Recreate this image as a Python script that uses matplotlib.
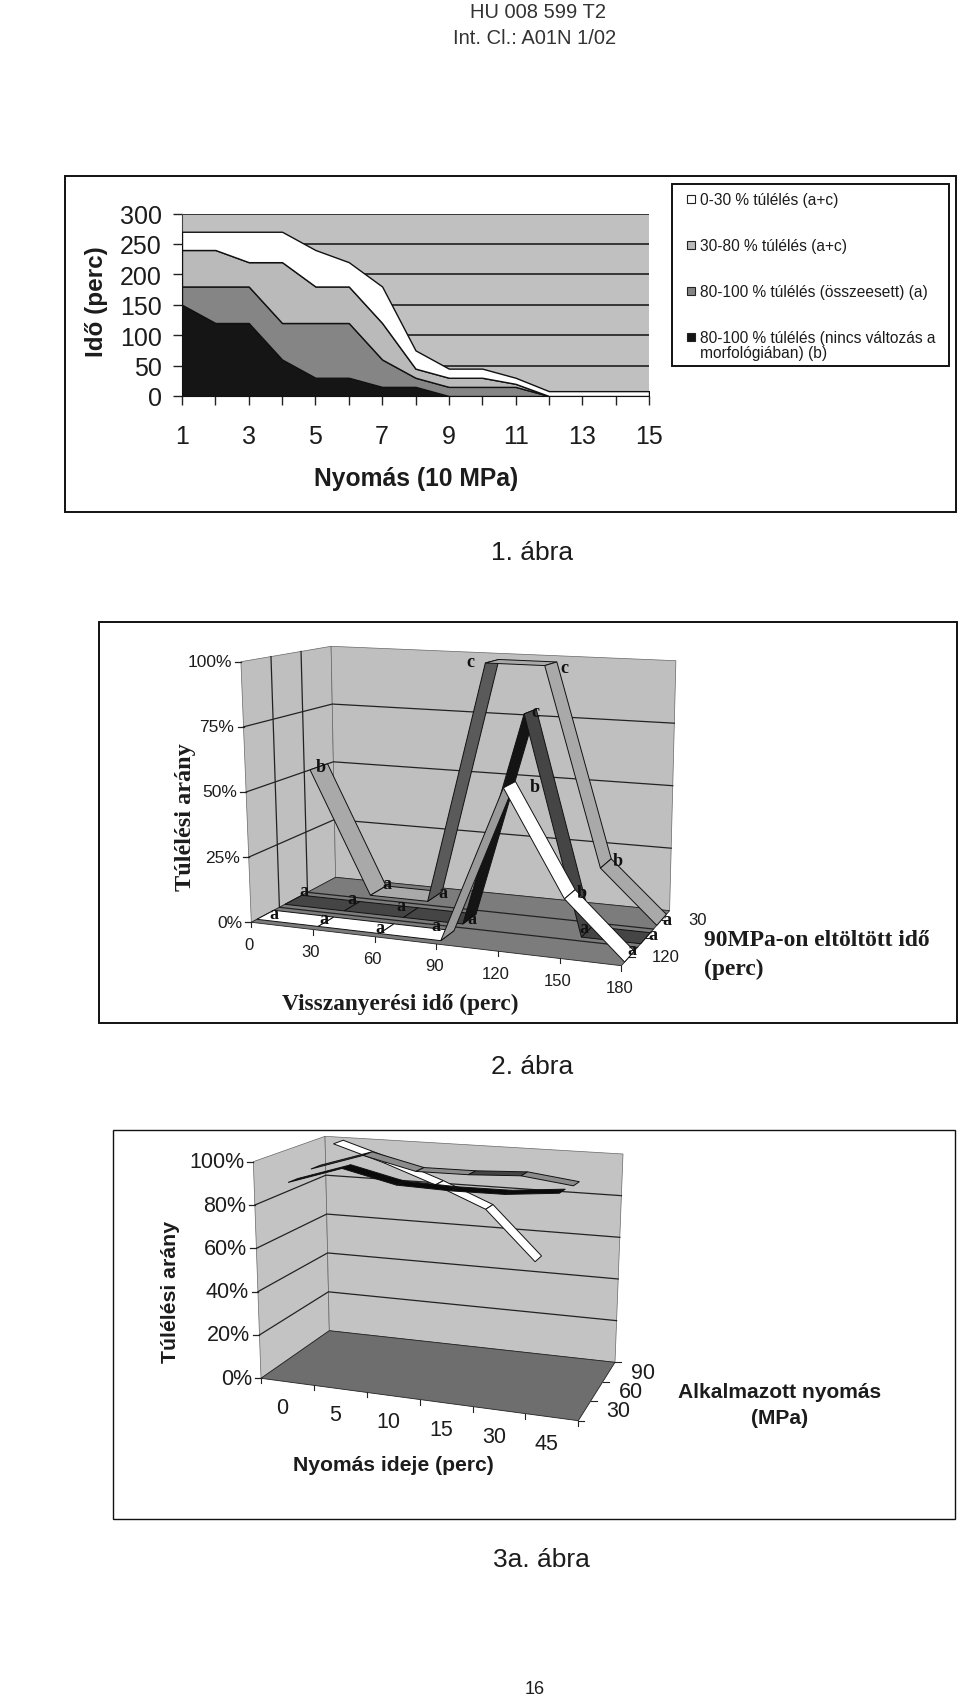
import numpy as np
import matplotlib
matplotlib.use("Agg")
import matplotlib.pyplot as plt
from matplotlib.patches import Polygon, Rectangle

plt.rcParams["font.family"] = ["Liberation Sans", "DejaVu Sans"]

W, H = 960, 1699
INK = "#1c1c1c"

# 1. abra: stacked areas
pressure = [1, 2, 3, 4, 5, 6, 7, 8, 9, 10, 11, 12, 13, 14, 15]
surv_80_100_b = [150, 120, 120, 60, 30, 30, 15, 15, 0, 0, 0, 0, 0, 0, 0]
surv_80_100_a = [30, 60, 60, 60, 90, 90, 45, 15, 15, 15, 15, 0, 0, 0, 0]
surv_30_80 = [60, 60, 40, 100, 60, 60, 60, 15, 15, 15, 5, 0, 0, 0, 0]
surv_0_30 = [30, 30, 50, 50, 60, 40, 60, 30, 15, 15, 10, 8, 8, 8, 8]
legend_labels = ["0-30 % túlélés (a+c)", "30-80 % túlélés (a+c)",
                 "80-100 % túlélés (összeesett) (a)",
                 "80-100 % túlélés (nincs változás a\nmorfológiában) (b)"]

# 2. abra: ribbons, back to front
recovery_labels = ["0", "30", "60", "90", "120", "150", "180"]
depth2_labels = ["120", "", "30"]
rib2_back = [50, 0, 0, 98, 98, 20, 0]
rib2_mid = [0, 0, 0, 0, 82, 0, 0]
rib2_front = [0, 0, 0, 0, 58, 20, 0]
letters_back = ["b", "a", "a", "c", "c", "b", "a"]
letters_mid = ["a", "a", "a", "a", "c", "a", "a"]
letters_front = ["a", "a", "a", "a", "b", "b", "a"]
pct2_ticks = [0, 25, 50, 75, 100]

# 3a. abra: ribbons, back to front
duration_labels = ["0", "5", "10", "15", "30", "45"]
depth3_labels = ["30", "60", "90"]
rib3_90 = [100, 92, 83, 73, 50]
rib3_60 = [92, 100, 94, 94, 95, 92]
rib3_30 = [90, 98, 92, 91, 91, 93]
pct3_ticks = [0, 20, 40, 60, 80, 100]

fig = plt.figure(figsize=(W / 100, H / 100), dpi=100, facecolor="white")
page = fig.add_axes([0, 0, 1, 1])
page.set_xlim(0, W)
page.set_ylim(H, 0)
page.axis("off")


def frame(x0, y0, x1, y1, lw=1.4):
    page.add_patch(Rectangle((x0, y0), x1 - x0, y1 - y0, fc="none", ec="#111111", lw=lw))


def make_proj(fl, bl, br, fr, tfl, tbl, tbr, tfr):
    floor = [np.array(p, float) for p in (fl, bl, br, fr)]
    top = [np.array(p, float) for p in (tfl, tbl, tbr, tfr)]

    def bilin(c, x, d):
        return (c[0] * (1 - x) + c[3] * x) * (1 - d) + (c[1] * (1 - x) + c[2] * x) * d

    def proj(x, d, pct):
        a = bilin(floor, x, d)
        b = bilin(top, x, d)
        return a + (b - a) * pct / 100.0
    return proj


def walls(proj, ticks, wall_c, floor_c, depth_lines):
    page.add_patch(Polygon([proj(0, 0, 0), proj(0, 1, 0), proj(0, 1, 100), proj(0, 0, 100)],
                           fc=wall_c, ec="#666666", lw=0.5, zorder=2))
    page.add_patch(Polygon([proj(0, 1, 0), proj(1, 1, 0), proj(1, 1, 100), proj(0, 1, 100)],
                           fc=wall_c, ec="#666666", lw=0.5, zorder=2))
    page.add_patch(Polygon([proj(0, 0, 0), proj(1, 0, 0), proj(1, 1, 0), proj(0, 1, 0)],
                           fc=floor_c, ec="#222222", lw=0.6, zorder=2))
    for p in ticks[1:-1]:
        pts = np.array([proj(0, 0, p), proj(0, 1, p), proj(1, 1, p)])
        page.plot(pts[:, 0], pts[:, 1], color="#222222", lw=0.9, zorder=3)
    for d in depth_lines:
        pts = np.array([proj(0, d, 100), proj(0, d, 0), proj(1, d, 0)])
        page.plot(pts[:, 0], pts[:, 1], color="#222222", lw=0.9, zorder=3)


def ribbon(proj, xs, d, vals, w, up_c, down_c, z):
    for i in range(len(vals) - 1):
        quad = [proj(xs[i], d - w, vals[i]), proj(xs[i + 1], d - w, vals[i + 1]),
                proj(xs[i + 1], d + w, vals[i + 1]), proj(xs[i], d + w, vals[i])]
        face = up_c if vals[i + 1] > vals[i] else down_c
        page.add_patch(Polygon(quad, fc=face, ec="#111111", lw=0.7, zorder=z))


def val_ticks(proj, ticks, size, gap):
    for p in ticks:
        a = proj(0, 0, p)
        page.plot([a[0] - 6, a[0]], [a[1], a[1]], color="#222222", lw=0.9, zorder=3)
        page.text(a[0] - gap, a[1], f"{p}%", ha="right", va="center", fontsize=size, color=INK)


# header and captions
page.text(538, 12, "HU 008 599 T2", ha="center", va="center", fontsize=14.5, color="#333333")
page.text(535, 38, "Int. Cl.: A01N 1/02", ha="center", va="center", fontsize=14.5, color="#333333")
page.text(532, 553, "1. ábra", ha="center", va="center", fontsize=19, color=INK)
page.text(532, 1067, "2. ábra", ha="center", va="center", fontsize=19, color=INK)
page.text(541, 1560, "3a. ábra", ha="center", va="center", fontsize=19, color=INK)
page.text(535, 1690, "16", ha="center", va="center", fontsize=13, color=INK)

# ---- 1. abra
frame(65, 177, 956, 513)
frame(672, 185, 949, 367)
ax = fig.add_axes([182 / W, 1 - 397 / H, (649 - 182) / W, (397 - 214.5) / H])
ax.set_facecolor("#c0c0c0")
ax.stackplot(pressure, surv_80_100_b, surv_80_100_a, surv_30_80, surv_0_30,
             colors=["#151515", "#858585", "#bababa", "#ffffff"],
             edgecolor="#111111", linewidth=1.0, zorder=3)
ax.set_xlim(1, 15)
ax.set_ylim(0, 300)
ax.set_yticks(range(0, 301, 50))
ax.set_xticks(pressure)
ax.set_xticklabels([str(p) if p % 2 else "" for p in pressure])
ax.grid(axis="y", color="#111111", lw=1.1, zorder=1)
ax.set_axisbelow(True)
for s in ["top", "right"]:
    ax.spines[s].set_visible(False)
ax.spines["left"].set_color("#444444")
ax.spines["bottom"].set_color("#111111")
ax.tick_params(axis="both", length=6.5, width=1, color="#222222", labelsize=18, labelcolor=INK)
ax.tick_params(axis="x", pad=14)
ax.tick_params(axis="y", pad=8)
page.text(416, 479, "Nyomás (10 MPa)", ha="center", va="center", fontsize=17.7, fontweight="bold", color=INK)
page.text(97, 302, "Idő (perc)", ha="center", va="center", rotation=90, fontsize=17.5, fontweight="bold", color=INK)

swatch_colors = ["#ffffff", "#bababa", "#858585", "#151515"]
swatch_y = [200, 246, 292, 338]
legend_text_y = [201, 247, 293, 346]
for lab, col, y, ty in zip(legend_labels, swatch_colors, swatch_y, legend_text_y):
    page.add_patch(Rectangle((687, y - 4), 8, 8, fc=col, ec="#222222", lw=0.8))
    page.text(700, ty, lab, ha="left", va="center", fontsize=11.2, color=INK, linespacing=1.0)

# ---- 2. abra
frame(99, 623, 957, 1024)
proj2 = make_proj((251.3, 923.3), (335.6, 878.3), (669.6, 911.7), (621.4, 966.7),
                  (240.9, 662.7), (331.1, 647.3), (675.9, 661.7), (630, 680))
walls(proj2, pct2_ticks, "#bfbfbf", "#7c7c7c", [1 / 3, 2 / 3])
val_ticks(proj2, pct2_ticks, 12.5, 9)

xs2 = [i / 6 for i in range(len(rib2_back))]
ribbon(proj2, xs2, 5 / 6, rib2_back, 0.1, "#5a5a5a", "#a9a9a9", 4)
ribbon(proj2, xs2, 1 / 2, rib2_mid, 0.1, "#141414", "#454545", 5)
ribbon(proj2, xs2, 1 / 6, rib2_front, 0.1, "#9a9a9a", "#ffffff", 6)

off_back = [(2, 0), (9, -7), (8, -4), (-22, 0), (14, 4), (12, -3), (5, 0)]
off_mid = [(10, -9), (0, -8), (-10, -7), (2, 0), (5, 0), (-3, -4), (7, -4)]
off_front = [(9, -1), (-2, -3), (-7, -1), (-12, -10), (25, 2), (12, -2), (2, -7)]
for d, vals, letters, offs in [(5 / 6, rib2_back, letters_back, off_back),
                               (1 / 2, rib2_mid, letters_mid, off_mid),
                               (1 / 6, rib2_front, letters_front, off_front)]:
    for x, v, l, o in zip(xs2, vals, letters, offs):
        q = proj2(x, d, v)
        page.text(q[0] + o[0], q[1] + o[1], l, ha="center", va="center", fontsize=13,
                  fontweight="bold", family="Liberation Serif", color="#111111", zorder=8)

for x, lab in zip(xs2, recovery_labels):
    q = proj2(x, 0, 0)
    page.plot([q[0], q[0]], [q[1], q[1] + 5], color="#222222", lw=0.8, zorder=3)
    page.text(q[0] - 2, q[1] + 22, lab, ha="center", va="center", fontsize=12, color=INK)
for i, lab in enumerate(depth2_labels):
    d = (i + 0.5) / 3
    q = proj2(1, d, 0)
    page.plot([q[0], q[0] + 6], [q[1], q[1]], color="#222222", lw=0.8, zorder=3)
    page.text(q[0] + 36, q[1], lab, ha="center", va="center", fontsize=12, color=INK)

page.text(186, 817, "Túlélési arány", ha="center", va="center", rotation=90, fontsize=17.5,
          fontweight="bold", family="Liberation Serif", color=INK)
page.text(400, 1004, "Visszanyerési idő (perc)", ha="center", va="center", fontsize=16.8,
          fontweight="bold", family="Liberation Serif", color=INK)
page.text(704, 941, "90MPa-on eltöltött idő", ha="left", va="center", fontsize=16.9,
          fontweight="bold", family="Liberation Serif", color=INK)
page.text(704, 969, "(perc)", ha="left", va="center", fontsize=16.9,
          fontweight="bold", family="Liberation Serif", color=INK)

# ---- 3a. abra
frame(113, 1131, 955, 1520, lw=1.0)
proj3 = make_proj((261, 1379.3), (329.3, 1331.7), (615, 1363.3), (578.3, 1421.7),
                  (253.3, 1162.7), (325, 1137.3), (623, 1155), (583, 1182))
walls(proj3, pct3_ticks, "#c3c3c3", "#6e6e6e", [])
val_ticks(proj3, pct3_ticks, 15.5, 9)

xs3 = [(i + 0.5) / 6 for i in range(len(rib3_60))]
ribbon(proj3, xs3, 5 / 6, rib3_90, 0.07, "#ffffff", "#ffffff", 4)
ribbon(proj3, xs3, 1 / 2, rib3_60, 0.07, "#444444", "#8c8c8c", 5)
ribbon(proj3, xs3, 1 / 6, rib3_30, 0.07, "#0a0a0a", "#0a0a0a", 6)

for i in range(len(duration_labels) + 1):
    q = proj3(i / 6, 0, 0)
    page.plot([q[0], q[0]], [q[1], q[1] + 5], color="#222222", lw=0.8, zorder=3)
for x, lab in zip(xs3, duration_labels):
    q = proj3(x, 0, 0)
    page.text(q[0] - 5, q[1] + 26, lab, ha="center", va="center", fontsize=15.5, color=INK)
for i in range(4):
    q = proj3(1, i / 3, 0)
    page.plot([q[0], q[0] + 6], [q[1], q[1]], color="#222222", lw=0.8, zorder=3)
for i, lab in enumerate(depth3_labels):
    q = proj3(1, (i + 0.5) / 3, 0)
    page.text(q[0] + 34, q[1], lab, ha="center", va="center", fontsize=15.5, color=INK)

page.text(170, 1292, "Túlélési arány", ha="center", va="center", rotation=90, fontsize=15.3,
          fontweight="bold", color=INK)
page.text(393, 1466, "Nyomás ideje (perc)", ha="center", va="center", fontsize=15.2,
          fontweight="bold", color=INK)
page.text(780, 1393, "Alkalmazott nyomás", ha="center", va="center", fontsize=15.1,
          fontweight="bold", color=INK)
page.text(780, 1419, "(MPa)", ha="center", va="center", fontsize=15.1,
          fontweight="bold", color=INK)

fig.savefig("out.png", dpi=100)
